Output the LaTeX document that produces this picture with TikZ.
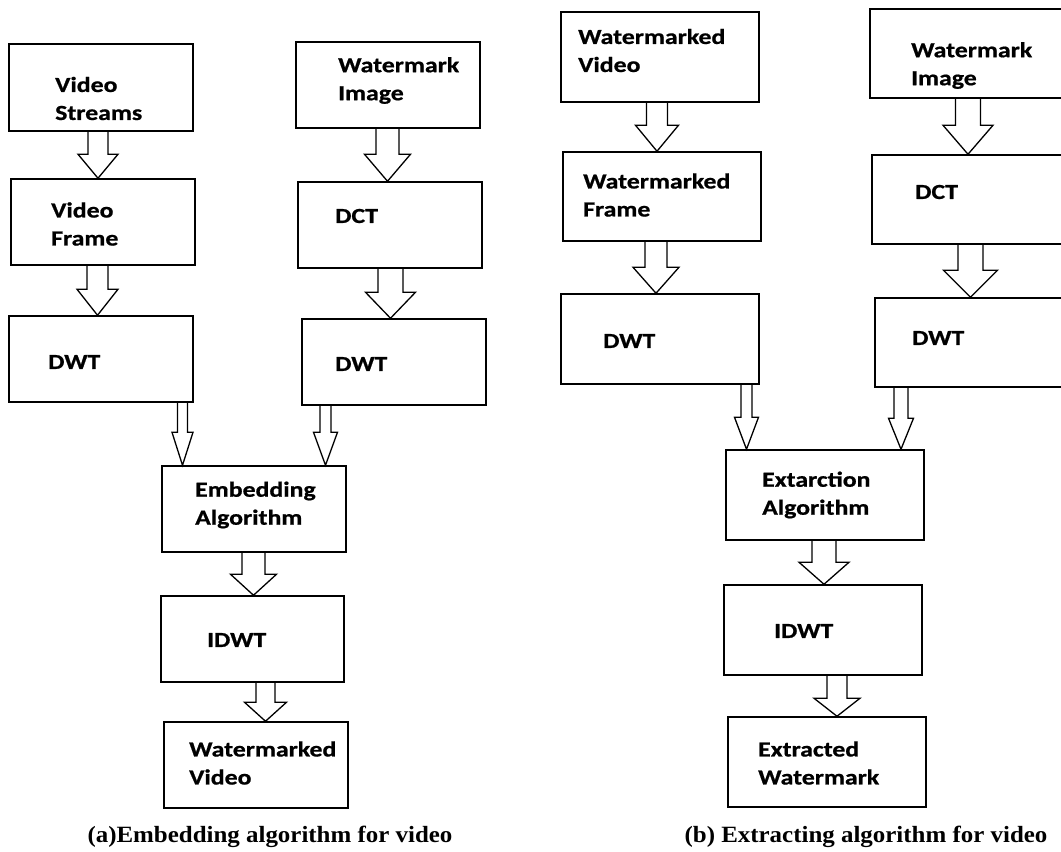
\documentclass[tikz,border=0pt]{standalone}
\usepackage{fontspec}
\setmainfont{Liberation Serif}
\newfontfamily\lblfont[FakeStretch=1.2, BoldFeatures={FakeBold=0.8}]{Carlito}
\newfontfamily\capfont[FakeStretch=1.07]{Liberation Serif}
\usetikzlibrary{calc}
\tikzset{
  box/.style={draw=black, line width=1.5pt, inner sep=0pt, fill=white},
  lbl/.style={anchor=west, inner sep=0pt, align=left, font=\lblfont\bfseries\fontsize{21.5}{28}\selectfont, text=black},
  captext/.style={inner sep=0pt, font=\capfont\bfseries\fontsize{23.3}{26}\selectfont},
  arr/.style={draw=black, line width=1.3pt, line join=miter}
}
% #1 from node, #2 to node, #3 x, #4 shaft half width, #5 head half width, #6 head length
\newcommand\barrow[6]{%
  \draw[arr] let \p1=(#1.south), \p2=(#2.north) in
    (#3pt-#4pt,\y1) -- (#3pt-#4pt,\y2+#6pt) -- (#3pt-#5pt,\y2+#6pt) -- (#3pt,\y2)
    -- (#3pt+#5pt,\y2+#6pt) -- (#3pt+#4pt,\y2+#6pt) -- (#3pt+#4pt,\y1);}
\begin{document}
\begin{tikzpicture}[x=1pt,y=-1pt]
\useasboundingbox (0,0) rectangle (1061,852);
% ---------- (a) left panel ----------
\node[box, minimum width=184pt, minimum height=87pt] (VS) at (101,87.5) {};
\node[box, minimum width=184pt, minimum height=86pt] (VF) at (103,222) {};
\node[box, minimum width=184pt, minimum height=86pt] (DWL) at (101,359) {};
\node[box, minimum width=184pt, minimum height=86pt] (WIL) at (388,85) {};
\node[box, minimum width=184pt, minimum height=86pt] (DCTL) at (390,225) {};
\node[box, minimum width=184pt, minimum height=86pt] (DWR) at (394,362) {};
\node[box, minimum width=184pt, minimum height=86pt] (EMB) at (254,509) {};
\node[box, minimum width=183pt, minimum height=86pt] (IDL) at (252.5,639) {};
\node[box, minimum width=184pt, minimum height=86pt] (WVL) at (256,765) {};

\node[lbl] (tVS) at (55,98.5) {Video\\Streams};
\node[lbl] (tVF) at (51,224) {Video\\Frame};
\node[lbl] (tDWL) at (48,362) {DWT};
\node[lbl] (tWIL) at (338,80.5) {Watermark\\Image};
\node[lbl] (tDCTL) at (335,216) {DCT};
\node[lbl] (tDWR) at (335,364) {DWT};
\node[lbl] (tEMB) at (195,505) {Embedding\\Algorithm};
\node[lbl] (tIDL) at (207,640) {IDWT};
\node[lbl] (tWVL) at (189,763) {Watermarked\\Video};

\barrow{VS}{VF}{98}{10}{20}{24}
\barrow{VF}{DWL}{97.5}{10.5}{20.5}{26}
\barrow{WIL}{DCTL}{387.5}{11.5}{23}{27}
\barrow{DCTL}{DWR}{390.5}{12.5}{25}{26}
\barrow{DWL}{EMB}{182.5}{5}{10.5}{33}
\barrow{DWR}{EMB}{325.5}{5.5}{12}{33}
\barrow{EMB}{IDL}{253.5}{11.5}{23}{21}
\barrow{IDL}{WVL}{265.5}{9.5}{21}{19}

\node[captext] (capA) at (270,837) {(a)Embedding algorithm for video};

% ---------- (b) right panel ----------
\node[box, minimum width=198pt, minimum height=90pt] (WV) at (660,57) {};
\node[box, minimum width=198pt, minimum height=89pt] (WF) at (662,196.5) {};
\node[box, minimum width=198pt, minimum height=90pt] (DW3) at (660,339) {};
\node[box, minimum width=196pt, minimum height=89pt] (WIR) at (968,53.5) {};
\node[box, minimum width=194pt, minimum height=89pt] (DCTR) at (969,199.5) {};
\node[box, minimum width=191pt, minimum height=89pt] (DW4) at (970.5,342.5) {};
\node[box, minimum width=198pt, minimum height=90pt] (EXT) at (825,495) {};
\node[box, minimum width=198pt, minimum height=90pt] (IDR) at (823,630) {};
\node[box, minimum width=198pt, minimum height=90pt] (EW) at (827,762) {};

\node[lbl] (tWV) at (578,50.5) {Watermarked\\Video};
\node[lbl] (tWF) at (583,195) {Watermarked\\Frame};
\node[lbl] (tDW3) at (603,341) {DWT};
\node[lbl] (tWIR) at (911,65.5) {Watermark\\Image};
\node[lbl] (tDCTR) at (915,192) {DCT};
\node[lbl] (tDW4) at (912,338) {DWT};
\node[lbl] (tEXT) at (762,495) {Extarction\\Algorithm};
\node[lbl] (tIDR) at (774,631) {IDWT};
\node[lbl] (tEW) at (758,763) {Extracted\\Watermark};

\barrow{WV}{WF}{657}{10.5}{21.5}{26}
\barrow{WF}{DW3}{656}{11}{23}{26}
\barrow{WIR}{DCTR}{968}{12.5}{25}{29}
\barrow{DCTR}{DW4}{970.5}{12.5}{27}{27}
\barrow{DW3}{EXT}{746.5}{5.5}{12}{32}
\barrow{DW4}{EXT}{901}{7}{12.5}{31}
\barrow{EXT}{IDR}{824}{12}{25}{22}
\barrow{IDR}{EW}{837}{10}{23}{18}

\node[captext] (capB) at (866,837) {(b) Extracting algorithm for video};
\end{tikzpicture}
\end{document}
